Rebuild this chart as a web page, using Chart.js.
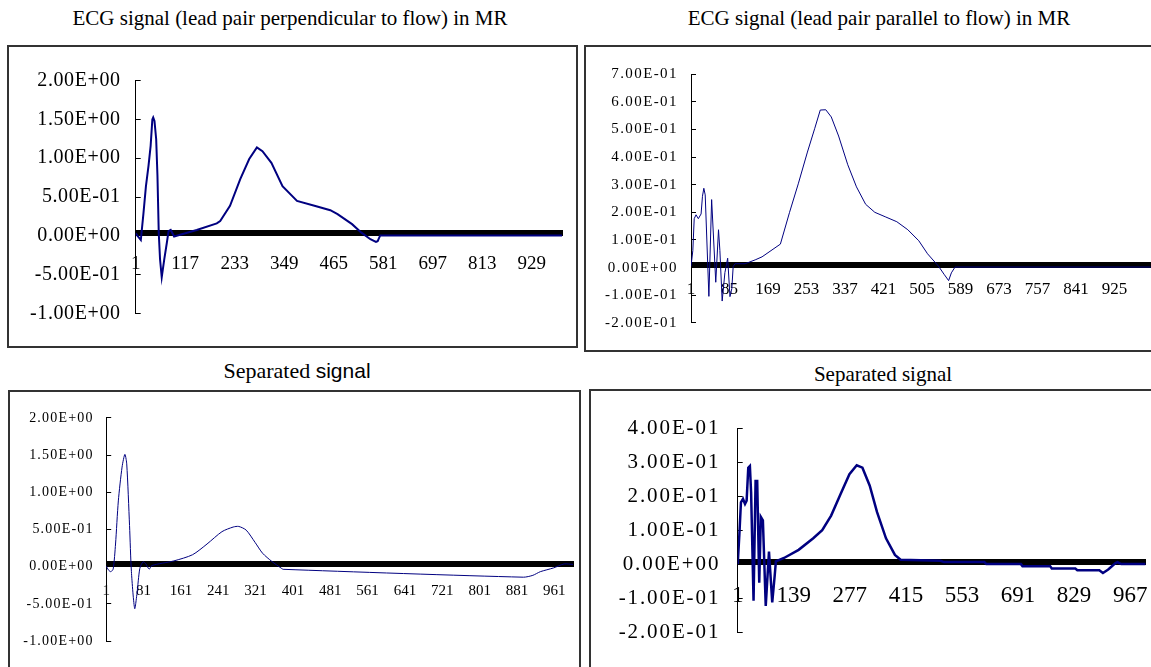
<!DOCTYPE html>
<html>
<head>
<meta charset="utf-8">
<script src="https://cdn.jsdelivr.net/npm/chart.js@4.4.1/dist/chart.umd.min.js"></script>
<style>
    body { margin: 0; width: 1151px; height: 667px; overflow: hidden; background: #fff; position: relative; font-family: 'Liberation Serif', serif; }
    .box { position: absolute; border: 2px solid #333; box-sizing: border-box; }
    .title { position: absolute; white-space: nowrap; transform: translateX(-50%); color: #000; }
    .serif { font-family: 'Liberation Serif', serif; }
    .sans { font-family: 'Liberation Sans', sans-serif; }
    canvas { position: absolute; }
</style>
</head>
<body>
<div class="title serif" style="left:290px; top:8px; font-size:21px; line-height:21px;">ECG signal (lead pair perpendicular to flow) in MR</div>
<div class="title serif" style="left:879px; top:8px; font-size:21px; line-height:21px;">ECG signal (lead pair parallel to flow) in MR</div>
<div class="title" style="left:297px; top:360px; font-size:22px; line-height:22px;"><span class="serif">Separated</span> <span class="sans" style="font-size:21px;">signal</span></div>
<div class="title serif" style="left:883px; top:364px; font-size:21px; line-height:21px;">Separated signal</div>

<div class="box" style="left:7px; top:45px; width:571px; height:303px;"></div>
<div class="box" style="left:584px; top:45px; width:600px; height:307px;"></div>
<div class="box" style="left:8px; top:390px; width:573px; height:300px;"></div>
<div class="box" style="left:589px; top:389px; width:600px; height:300px;"></div>

<canvas id="perpChart" width="567" height="299" style="left:9px; top:47px;"></canvas>
<canvas id="paraChart" width="565" height="303" style="left:586px; top:47px;"></canvas>
<canvas id="sepAChart" width="569" height="275" style="left:10px; top:392px;"></canvas>
<canvas id="sepBChart" width="560" height="276" style="left:591px; top:391px;"></canvas>

<script>
// ECG, lead pair perpendicular to flow (sample number, amplitude)
const p1Index = [1, 13, 19, 25, 31, 36, 40, 42, 45, 49, 52, 55, 58, 62, 68, 74, 78, 83, 91, 101,
    144, 191, 199, 222, 246, 267, 285, 298, 319, 345, 379, 422, 457, 474, 508, 530, 551, 564, 568, 574, 1000];
const p1Value = [0.03, -0.055, 0.28, 0.64, 0.9, 1.16, 1.5, 1.525, 1.48, 1.245, 0.77, 0.04, -0.30, -0.535, -0.30, -0.09, 0.06, 0.075, -0.01, 0.006,
    0.075, 0.16, 0.19, 0.385, 0.73, 0.99, 1.14, 1.09, 0.94, 0.64, 0.45, 0.385, 0.33, 0.28, 0.15, 0.04, -0.045, -0.08, -0.07, 0.005, 0.005];
const p1XLabels = [1, 117, 233, 349, 465, 581, 697, 813, 929];
const p1YTicks = [-1, -0.5, 0, 0.5, 1, 1.5, 2];
const p1Count = 1000;

// ECG, lead pair parallel to flow
const p2Index = [1, 5, 8, 12, 17, 23, 26, 29, 32, 40, 46, 55, 61, 64, 69, 75, 81, 86, 90, 93,
    97, 119, 141, 156, 196, 216, 235, 255, 271, 283, 295, 307, 323, 343, 362, 382, 402, 426, 450, 474,
    498, 517, 541, 553, 563, 569, 577, 1004];
const p2Value = [0.004, 0.062, 0.177, 0.191, 0.177, 0.194, 0.258, 0.287, 0.263, -0.104, 0.246, -0.053, 0.137, 0.062, -0.121, -0.018, 0.034, -0.105, -0.076, 0.004,
    0.014, 0.014, 0.028, 0.039, 0.085, 0.2, 0.303, 0.418, 0.504, 0.57, 0.571, 0.545, 0.476, 0.372, 0.292, 0.229, 0.2, 0.183, 0.166, 0.137,
    0.097, 0.05, 0.005, -0.024, -0.047, -0.019, 0.002, 0.002];
const p2XLabels = [1, 85, 169, 253, 337, 421, 505, 589, 673, 757, 841, 925];
const p2YTicks = [-0.2, -0.1, 0, 0.1, 0.2, 0.3, 0.4, 0.5, 0.6, 0.7];
const p2Count = 1004;

// Separated signal (left)
const p3Index = [1, 6, 11, 16, 21, 27, 35, 41, 45, 51, 55, 62, 67, 73, 80, 86, 93, 99, 146, 186,
    217, 249, 273, 285, 301, 320, 336, 356, 376, 380, 895, 915, 931, 959, 982, 1001];
const p3Value = [0.01, -0.046, -0.067, -0.03, 0.305, 0.884, 1.339, 1.51, 1.38, 0.553, -0.067, -0.563, -0.356, -0.025, 0.066, 0.037, -0.033, 0.016, 0.078, 0.161,
    0.305, 0.471, 0.533, 0.541, 0.491, 0.326, 0.181, 0.07, -0.02, -0.035, -0.141, -0.116, -0.067, -0.017, 0.037, 0.03];
const p3XLabels = [1, 81, 161, 241, 321, 401, 481, 561, 641, 721, 801, 881, 961];
const p3YTicks = [-1, -0.5, 0, 0.5, 1, 1.5, 2];
const p3Count = 1001;

// Separated signal (right)
const p4Index = [1, 5, 9, 14, 19, 23, 27, 31, 34, 40, 45, 49, 54, 58, 63, 70, 78, 86, 92, 95,
    115, 151, 187, 209, 231, 254, 276, 294, 308, 326, 344, 366, 388, 402, 500, 509, 608, 613, 698, 702,
    770, 774, 832, 837, 891, 900, 913, 931, 936, 945, 1005];
const p4Value = [0, 0.085, 0.182, 0.192, 0.177, 0.187, 0.284, 0.289, 0.211, -0.108, 0.245, 0.245, -0.055, 0.139, 0.129, -0.123, 0.037, -0.113, -0.035, 0.008,
    0.018, 0.042, 0.076, 0.1, 0.143, 0.206, 0.265, 0.291, 0.284, 0.231, 0.153, 0.076, 0.027, 0.013, 0.01, 0.006, 0.006, 0, 0, -0.006,
    -0.006, -0.013, -0.013, -0.018, -0.018, -0.026, -0.016, 0.003, 0.006, 0, 0];
const p4XLabels = [1, 139, 277, 415, 553, 691, 829, 967];
const p4YTicks = [-0.2, -0.1, 0, 0.1, 0.2, 0.3, 0.4];
const p4Count = 1005;

// Excel style label: 5.00E-01
function sci(v) {
    const parts = Number(v).toExponential(2).split('e');
    const e = parseInt(parts[1], 10);
    return parts[0] + 'E' + (e < 0 ? '-' : '+') + String(Math.abs(e)).padStart(2, '0');
}

function drawPanel(id, o) {
    const ctx = document.getElementById(id).getContext('2d');
    const shown = new Set(o.xLabels);
    const family = "'Liberation Serif', serif";
    return new Chart(ctx, {
        type: 'line',
        data: {
            datasets: [{
                data: o.index.map((x, k) => ({ x: x, y: o.value[k] })),
                borderColor: '#000080',
                borderWidth: o.lineWidth,
                pointRadius: 0,
                tension: o.tension || 0,
                fill: false
            }]
        },
        options: {
            responsive: false,
            animation: false,
            events: [],
            layout: { padding: o.padding },
            plugins: { legend: { display: false }, tooltip: { enabled: false } },
            scales: {
                x: {
                    type: 'linear',
                    position: { y: 0 }, // category axis crosses at zero
                    min: 1,
                    max: o.xMax,
                    // one tick mark per sample, which gives the dark band
                    afterBuildTicks: s => { s.ticks = Array.from({ length: o.count }, (_, i) => ({ value: i + 1 })); },
                    // labels hang below the axis, they should not squeeze the plot sideways
                    afterFit: s => { s.paddingLeft = 0; s.paddingRight = 0; },
                    grid: { drawOnChartArea: false, tickLength: -6, color: '#000', lineWidth: 1 },
                    border: { color: '#000', width: 1 },
                    ticks: {
                        autoSkip: false, maxRotation: 0, padding: o.xPad, color: '#000',
                        font: { family: family, size: o.xFont },
                        callback: v => shown.has(v) ? String(v) : ''
                    }
                },
                y: {
                    min: o.yTicks[0],
                    max: o.yTicks[o.yTicks.length - 1],
                    afterBuildTicks: s => { s.ticks = o.yTicks.map(v => ({ value: v })); },
                    afterFit: s => { s.width = o.yWidth; },
                    // the wide CJK-font look of the value labels
                    afterUpdate: s => {
                        if (s._spaced) return;
                        const draw = s.drawLabels;
                        s.drawLabels = function (area) {
                            this.ctx.save();
                            this.ctx.letterSpacing = o.ySpacing + 'px';
                            draw.call(this, area);
                            this.ctx.restore();
                        };
                        s._spaced = true;
                    },
                    grid: { drawOnChartArea: false, tickLength: -5, color: '#000', lineWidth: 1 },
                    border: { color: '#000', width: 1 },
                    ticks: { padding: o.yPad, color: '#000', font: { family: family, size: o.yFont }, callback: v => sci(v) }
                }
            }
        }
    });
}

drawPanel('perpChart', {
    index: p1Index, value: p1Value, xLabels: p1XLabels, yTicks: p1YTicks, count: p1Count, xMax: p1Count,
    xFont: 19, yFont: 20, ySpacing: 0.6, lineWidth: 2, yWidth: 126.7, yPad: 20.1, xPad: 23,
    padding: { left: 0, top: 33.7, right: 14, bottom: 32.7 }
});
drawPanel('paraChart', {
    index: p2Index, value: p2Value, xLabels: p2XLabels, yTicks: p2YTicks, count: p2Count, xMax: p2Count + 0.5,
    xFont: 17, yFont: 15, ySpacing: 1.4, lineWidth: 1, yWidth: 105, yPad: 18.1, xPad: 17.8,
    padding: { left: 0, top: 21.3, right: 0, bottom: 20.7 }
});
drawPanel('sepAChart', {
    index: p3Index, value: p3Value, xLabels: p3XLabels, yTicks: p3YTicks, count: p3Count, xMax: p3Count,
    xFont: 15, yFont: 14, ySpacing: 1.2, lineWidth: 1, tension: 0.25, yWidth: 96.2, yPad: 17.5, xPad: 21.7,
    padding: { left: 0, top: 18.7, right: 6, bottom: 14.3 }
});
drawPanel('sepBChart', {
    index: p4Index, value: p4Value, xLabels: p4XLabels, yTicks: p4YTicks, count: p4Count, xMax: p4Count,
    xFont: 23, yFont: 21, ySpacing: 1.9, lineWidth: 2.5, yWidth: 146.7, yPad: 22.4, xPad: 24.4,
    padding: { left: 0, top: 37.3, right: 5.4, bottom: 32 }
});
</script>
</body>
</html>
